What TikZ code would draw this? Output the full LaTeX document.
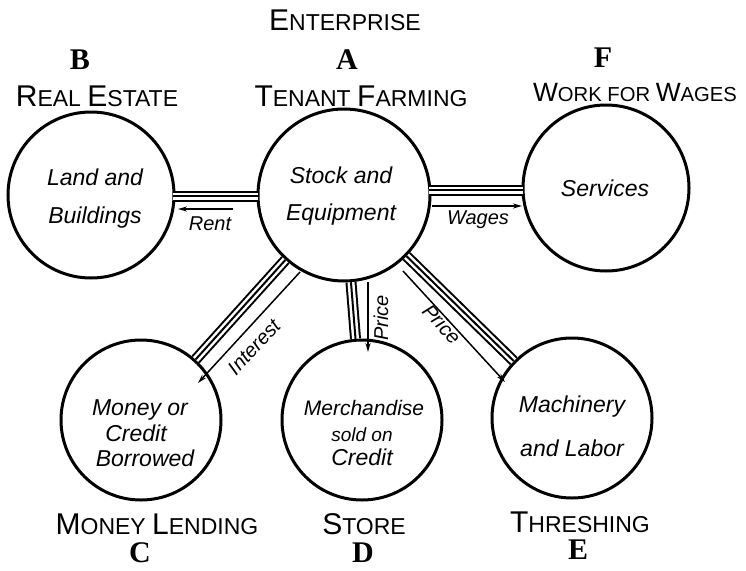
\documentclass[tikz,border=0pt]{standalone}
\usepackage{fontspec}
\setmainfont{Liberation Sans}
\newfontfamily\letterfont{Liberation Serif}
\usetikzlibrary{calc,arrows.meta}
\newcommand{\fsc}[2]{{\fontsize{30}{32}\selectfont #1}{\fontsize{23}{26}\selectfont #2}}
\begin{document}
\begin{tikzpicture}[x=1pt,y=-1pt,
  circ/.style={circle,draw,line width=3pt,minimum size=#1,inner sep=0pt},
  ctext/.style={font=\fontsize{23}{26}\selectfont\itshape},
  lab/.style={font=\fontsize{23}{26}\selectfont},
  letter/.style={font=\letterfont\bfseries\fontsize{30}{32}\selectfont},
  chan/.style={line width=11pt,draw=black,postaction={draw=white,line width=7pt,postaction={draw=black,line width=2pt}}},
  arr/.style={line width=1.5pt,-{Stealth[length=9pt,width=5pt]}},
  alab/.style={font=\fontsize{20}{22}\selectfont\itshape}]
\useasboundingbox (0,0) rectangle (746,570);
\node[circ=166pt] (B) at (91,195) {};
\node[circ=172pt] (A) at (344,195) {};
\node[circ=166pt] (F) at (606,188) {};
\node[circ=160pt] (C) at (141,420) {};
\node[circ=160pt] (D) at (362,420) {};
\node[circ=160pt] (E) at (572,418) {};
% channels
\draw[chan] ($(A.center)+(-86,1)$) coordinate (ab1) -- ($(B.center)+(82,1)$) coordinate (ab2);
\draw[chan] ($(A.center)+(85,-5)$) coordinate (af1) -- ($(F.center)+(-83,2)$) coordinate (af2);
\draw[chan] (A) -- (C);
\draw[chan] (A) -- (D);
\draw[chan] (A) -- (E);
% arrows
\coordinate (r1) at (233,209); \coordinate (r2) at (178,209);
\draw[arr] (r1) -- (r2);
\coordinate (w1) at (432,206); \coordinate (w2) at (522,206);
\draw[arr] (w1) -- (w2);
\coordinate (i1) at (300,272); \coordinate (i2) at (198,383);
\draw[arr] (i1) -- (i2);
\coordinate (d1) at (368,282); \coordinate (d2) at (368,352);
\draw[arr] (d1) -- (d2);
\coordinate (e1) at (403,271); \coordinate (e2) at (505,382);
\draw[arr] (e1) -- (e2);
\node[alab] (rent) at (210,224) {Rent};
\node[alab] (wages) at (478,220) {Wages};
\node[alab,rotate=47] (int) at (254,347) {Interest};
\node[alab,rotate=90] (pd) at (381,318) {Price};
\node[alab,rotate=-47] (pe) at (442,324) {Price};
% circle texts
\node[ctext] (t1) at (95,177) {Land and};
\node[ctext] (t2) at (95,218) {Buildings};
\node[ctext] (t3) at (341,175) {Stock and};
\node[ctext] (t4) at (341,215) {Equipment};
\node[ctext] (t5) at (605,188) {Services};
\node[ctext] (t6) at (140,410) {Money or};
\node[ctext] (t7) at (136,433) {Credit};
\node[ctext] (t8) at (145,458) {Borrowed};
\node[ctext,font=\fontsize{21}{24}\selectfont\itshape] (t9) at (364,408) {Merchandise};
\node[ctext,font=\fontsize{19}{22}\selectfont\itshape] (t10) at (362,435) {sold on};
\node[ctext] (t11) at (362,457) {Credit};
\node[ctext] (t12) at (572,407) {Machinery};
\node[ctext] (t13) at (572,448) {and Labor};
% headings
\node[lab] (ent) at (345,20) {\fsc{E}{NTERPRISE}};
\node[letter] (lB) at (80,60) {B};
\node[letter] (lA) at (347,60) {A};
\node[letter] (lF) at (603,58) {F};
\node[lab] (hB) at (97,96) {\fsc{R}{EAL} \fsc{E}{STATE}};
\node[lab] (hA) at (361,96) {\fsc{T}{ENANT} \fsc{F}{ARMING}};
\node[lab,scale=0.88] (hF) at (635,93) {\fsc{W}{ORK FOR} \fsc{W}{AGES}};
\node[lab] (hC) at (157,524) {\fsc{M}{ONEY} \fsc{L}{ENDING}};
\node[lab] (hD) at (364,524) {\fsc{S}{TORE}};
\node[lab] (hE) at (580,522) {\fsc{T}{HRESHING}};
\node[letter] (lC) at (140,553) {C};
\node[letter] (lD) at (363,553) {D};
\node[letter] (lE) at (578,550) {E};
\end{tikzpicture}
\end{document}
